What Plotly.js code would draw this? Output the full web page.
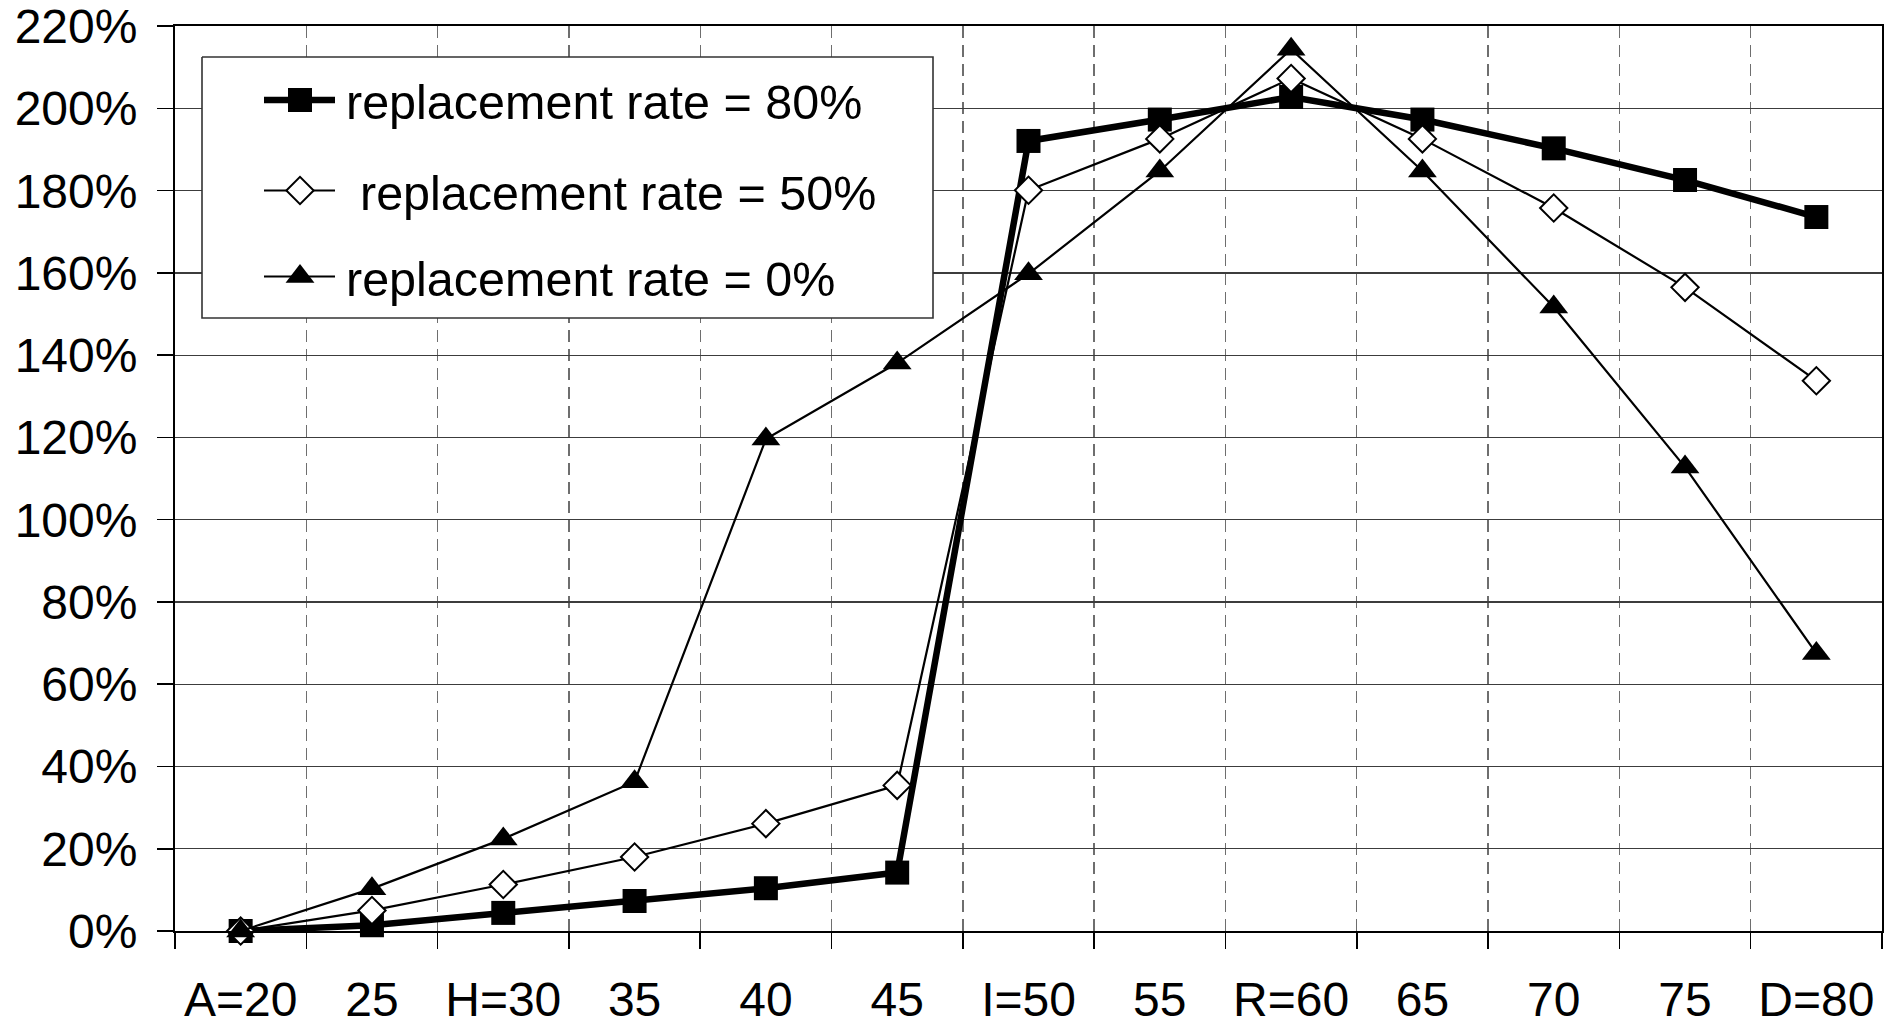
<!DOCTYPE html>
<html>
<head>
<meta charset="utf-8">
<script src="https://cdn.plot.ly/plotly-3.0.1.min.js"></script>
<style>
  html, body { margin: 0; padding: 0; background: #ffffff; }
  #chart { width: 1897px; height: 1029px; }
</style>
</head>
<body>
<div id="chart"></div>
<script>
// ---- data ----
const categories = ['A=20', '25', 'H=30', '35', '40', '45', 'I=50', '55', 'R=60', '65', '70', '75', 'D=80'];
const seriesNames = ['replacement rate = 80%', 'replacement rate = 50%', 'replacement rate = 0%'];
const rate80 = [0, 1.4, 4.4, 7.3, 10.4, 14.2, 192.1, 197.3, 202.8, 197.3, 190.3, 182.6, 173.6];
const rate50 = [0, 5.0, 11.3, 18.0, 26.1, 35.4, 180.1, 192.6, 207.3, 192.6, 175.8, 156.5, 133.8];
const rate0  = [0, 10.3, 22.4, 36.3, 119.6, 138.1, 159.8, 184.8, 214.4, 184.8, 151.7, 112.8, 67.5];
const yTickVals = [0, 20, 40, 60, 80, 100, 120, 140, 160, 180, 200, 220];
const yTickLabels = ['0%', '20%', '40%', '60%', '80%', '100%', '120%', '140%', '160%', '180%', '200%', '220%'];

// ---- styles ----
const FONT = 'Liberation Sans, Arial, Helvetica, sans-serif';
const seriesStyles = [
  { symbol: 'square',      size: 24, fill: '#000000', edge: '#000000', edgeW: 0, lineW: 6.5 },
  { symbol: 'diamond',     size: 21, fill: '#ffffff', edge: '#000000', edgeW: 2, lineW: 2.2 },
  { symbol: 'triangle-up', size: 25, fill: '#000000', edge: '#000000', edgeW: 0, lineW: 2.2 }
];
const seriesValues = [rate80, rate50, rate0];

// plot geometry (page pixels)
const W = 1897, H = 1029;
const M = { l: 175, r: 15, t: 26, b: 98 };
const plotX0 = M.l, plotX1 = W - M.r, plotY0 = M.t, plotY1 = H - M.b;

// custom legend layout (page pixels)
const legendCfg = {
  box: { x0: 202, y0: 57, x1: 933, y1: 318 },
  rowsY: [100, 190.5, 276.5],
  keyX: [264, 335],
  markerX: 300,
  textX: [344, 358, 344],
  fontSize: 48.5
};

const traces = [];
seriesValues.forEach((vals, i) => {
  const s = seriesStyles[i];
  traces.push({
    type: 'scatter', mode: 'lines+markers',
    name: seriesNames[i], x: categories, y: vals,
    xaxis: 'x', yaxis: 'y',
    line: { color: '#000000', width: s.lineW },
    marker: { symbol: s.symbol, size: s.size, color: s.fill, line: { color: s.edge, width: s.edgeW } },
    showlegend: false, hoverinfo: 'x+y+name', cliponaxis: false
  });
});

// legend box (overlay axes in page-pixel units)
const b = legendCfg.box;
traces.push({
  type: 'scatter', mode: 'lines', xaxis: 'x2', yaxis: 'y2',
  x: [b.x0, b.x1, b.x1, b.x0, b.x0], y: [b.y0, b.y0, b.y1, b.y1, b.y0],
  fill: 'toself', fillcolor: '#ffffff', line: { color: '#333333', width: 1.6 },
  showlegend: false, hoverinfo: 'skip'
});
// legend keys
seriesStyles.forEach((s, i) => {
  const yy = legendCfg.rowsY[i];
  traces.push({
    type: 'scatter', mode: 'lines', xaxis: 'x2', yaxis: 'y2',
    x: legendCfg.keyX, y: [yy, yy],
    line: { color: '#000000', width: s.lineW }, showlegend: false, hoverinfo: 'skip'
  });
  traces.push({
    type: 'scatter', mode: 'markers', xaxis: 'x2', yaxis: 'y2',
    x: [legendCfg.markerX], y: [yy],
    marker: { symbol: s.symbol, size: s.size, color: s.fill, line: { color: s.edge, width: s.edgeW } },
    showlegend: false, hoverinfo: 'skip'
  });
});

const annotations = seriesNames.map((name, i) => ({
  xref: 'x2', yref: 'y2', x: legendCfg.textX[i], y: legendCfg.rowsY[i] + 2,
  xanchor: 'left', yanchor: 'middle', text: name, showarrow: false,
  font: { family: FONT, size: legendCfg.fontSize, color: '#000000' }
}));

const layout = {
  width: W, height: H,
  margin: M,
  paper_bgcolor: '#ffffff', plot_bgcolor: '#ffffff',
  showlegend: false,
  font: { family: FONT, color: '#000000' },
  xaxis: {
    type: 'category', categoryorder: 'array', categoryarray: categories,
    range: [-0.5, categories.length - 0.5], fixedrange: true,
    tickson: 'boundaries', ticks: 'outside', ticklen: 16, tickwidth: 1.5, tickcolor: '#000000',
    showgrid: true, gridcolor: '#6e6e6e', gridwidth: 1.4, griddash: '12px,7px',
    showline: true, linecolor: '#000000', linewidth: 2, mirror: true,
    zeroline: false,
    tickfont: { family: FONT, size: 48, color: '#000000' },
    ticklabelstandoff: 25
  },
  yaxis: {
    range: [0, 220.05], fixedrange: true,
    tickmode: 'array', tickvals: yTickVals, ticktext: yTickLabels,
    ticks: 'outside', ticklen: 16, tickwidth: 1.5, tickcolor: '#000000',
    showgrid: true, gridcolor: '#3c3c3c', gridwidth: 1.4,
    showline: true, linecolor: '#000000', linewidth: 2, mirror: true,
    zeroline: false,
    tickfont: { family: FONT, size: 48, color: '#000000' },
    ticklabelstandoff: 10
  },
  xaxis2: { overlaying: 'x', anchor: 'y2', range: [plotX0, plotX1], visible: false, fixedrange: true },
  yaxis2: { overlaying: 'y', anchor: 'x2', range: [plotY1, plotY0], visible: false, fixedrange: true },
  annotations: annotations
};

Plotly.newPlot('chart', traces, layout, { displayModeBar: false, staticPlot: true });
</script>
</body>
</html>
